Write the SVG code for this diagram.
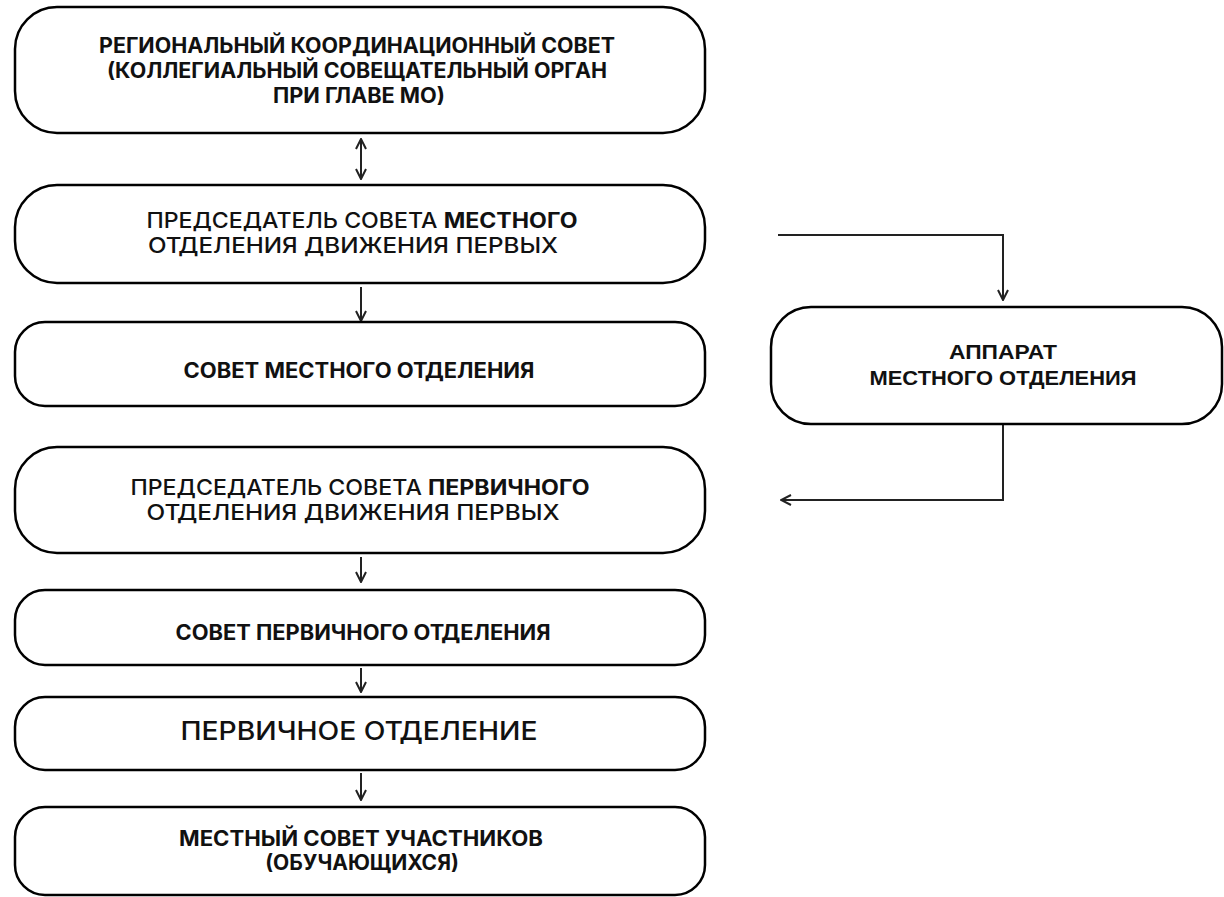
<svg xmlns="http://www.w3.org/2000/svg" width="1224" height="897" viewBox="0 0 1224 897">
<defs>
<style>
.box{fill:#fff;stroke:#000;stroke-width:2.5}
.t{font-family:Inter,"Noto Sans",sans-serif;font-size:21px;fill:#111;text-anchor:middle}
.b{font-weight:700}
.m{font-weight:500}
.r{font-family:"Liberation Sans",Arial,sans-serif;font-weight:700;font-size:21px;fill:#111;text-anchor:middle}
.c{fill:none;stroke:#222;stroke-width:2}
</style>
<marker id="ah" viewBox="0 0 12 12" refX="11" refY="6" markerWidth="12" markerHeight="12" markerUnits="userSpaceOnUse" orient="auto-start-reverse">
<path d="M1,1 L11,6 L1,11" fill="none" stroke="#222" stroke-width="2"/>
</marker>
</defs>
<rect width="1224" height="897" fill="#fff"/>
<g id="connectors">
<line class="c" x1="361" y1="139" x2="361" y2="179" marker-start="url(#ah)" marker-end="url(#ah)"/>
<line class="c" x1="361" y1="287" x2="361" y2="321" marker-end="url(#ah)"/>
<line class="c" x1="361" y1="557" x2="361" y2="582" marker-end="url(#ah)"/>
<line class="c" x1="361" y1="668" x2="361" y2="692" marker-end="url(#ah)"/>
<line class="c" x1="361" y1="773" x2="361" y2="800" marker-end="url(#ah)"/>
<polyline class="c" points="778,235 1003,235 1003,300" marker-end="url(#ah)"/>
<polyline class="c" points="1003,424 1003,500 781,500" marker-end="url(#ah)"/>
</g>
<g id="n1"><rect class="box" x="15" y="7" width="690" height="126" rx="42"/>
<text class="t b" x="357" y="53" textLength="516" lengthAdjust="spacingAndGlyphs">РЕГИОНАЛЬНЫЙ КООРДИНАЦИОННЫЙ СОВЕТ</text>
<text class="t b" x="357" y="78" textLength="500" lengthAdjust="spacingAndGlyphs">(КОЛЛЕГИАЛЬНЫЙ СОВЕЩАТЕЛЬНЫЙ ОРГАН</text>
<text class="t b" x="359" y="103" textLength="172" lengthAdjust="spacingAndGlyphs">ПРИ ГЛАВЕ МО)</text></g>
<g id="n2"><rect class="box" x="15" y="185" width="690" height="98" rx="42"/>
<text class="t m" x="362" y="228" textLength="431" lengthAdjust="spacingAndGlyphs">ПРЕДСЕДАТЕЛЬ СОВЕТА <tspan class="b">МЕСТНОГО</tspan></text>
<text class="t m" x="353" y="253" textLength="410" lengthAdjust="spacingAndGlyphs">ОТДЕЛЕНИЯ ДВИЖЕНИЯ ПЕРВЫХ</text></g>
<g id="n3"><rect class="box" x="15" y="322" width="690" height="84" rx="30"/>
<text class="t b" x="359" y="378" textLength="351" lengthAdjust="spacingAndGlyphs">СОВЕТ МЕСТНОГО ОТДЕЛЕНИЯ</text></g>
<g id="n4"><rect class="box" x="15" y="447" width="690" height="106" rx="42"/>
<text class="t m" x="360" y="495" textLength="459" lengthAdjust="spacingAndGlyphs">ПРЕДСЕДАТЕЛЬ СОВЕТА <tspan class="b">ПЕРВИЧНОГО</tspan></text>
<text class="t m" x="353" y="520" textLength="413" lengthAdjust="spacingAndGlyphs">ОТДЕЛЕНИЯ ДВИЖЕНИЯ ПЕРВЫХ</text></g>
<g id="n5"><rect class="box" x="15" y="590" width="690" height="75" rx="30"/>
<text class="t b" x="363" y="640" textLength="375" lengthAdjust="spacingAndGlyphs">СОВЕТ ПЕРВИЧНОГО ОТДЕЛЕНИЯ</text></g>
<g id="n6"><rect class="box" x="15" y="697" width="690" height="73" rx="30"/>
<text class="t m" x="359" y="740" style="font-size:25px" textLength="357" lengthAdjust="spacingAndGlyphs">ПЕРВИЧНОЕ ОТДЕЛЕНИЕ</text></g>
<g id="n7"><rect class="box" x="15" y="807" width="690" height="88" rx="30"/>
<text class="t b" x="361" y="846" textLength="364" lengthAdjust="spacingAndGlyphs">МЕСТНЫЙ СОВЕТ УЧАСТНИКОВ</text>
<text class="t b" x="362" y="870">(ОБУЧАЮЩИХСЯ)</text></g>
<g id="n8"><rect class="box" x="771" y="307" width="451" height="117" rx="40"/>
<text class="r" x="1003" y="359" textLength="108" lengthAdjust="spacingAndGlyphs">АППАРАТ</text>
<text class="r" x="1003" y="385" textLength="267" lengthAdjust="spacingAndGlyphs">МЕСТНОГО ОТДЕЛЕНИЯ</text></g>
</svg>
